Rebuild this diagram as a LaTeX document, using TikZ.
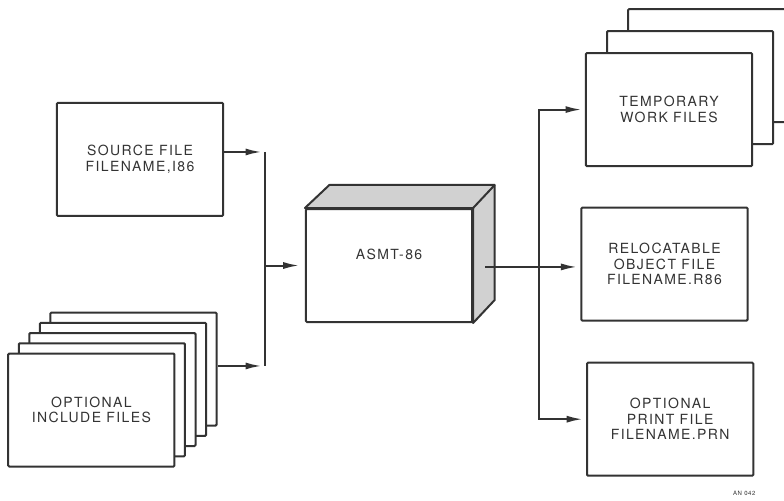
\documentclass[tikz,border=0pt]{standalone}
\usepackage{fontspec}
\setmainfont{TeX Gyre Heros}[LetterSpace=10]
\usetikzlibrary{arrows.meta,calc,positioning}

\begin{document}
\begin{tikzpicture}[node distance=22mm, color=black!80, line width=2pt, >={Latex[length=16pt,width=7pt]}, block/.style={rectangle, draw, fill=white, rounded corners=1pt, minimum width=58.4mm, minimum height=39.7mm, align=center, font=\fontsize{14}{15.5}\selectfont}]

    \useasboundingbox (-136.7mm,93.3mm) rectangle (138.8mm,-82.4mm);

    \node[block] (asmt) {ASMT-86\\[1mm]\strut};
    \node[block, right of=asmt, node distance=96.8mm, yshift=0.5mm] (obj) {RELOCATABLE\\OBJECT FILE\\FILENAME.R86};
    \node[block, below of=obj, node distance=54.5mm, xshift=2mm] (prn) {OPTIONAL\\PRINT FILE\\FILENAME.PRN};
    \node[block, left of=asmt, node distance=87.5mm, yshift=37.3mm] (src) {SOURCE FILE\\FILENAME,I86};
    \node[font=\fontsize{6}{7}\selectfont] (tag) at ($(prn.south east)+(-3.5mm,-6mm)$) {AN 042};

    % stacked files, back to front
    \coordinate[above of=obj, node distance=54.3mm, xshift=1.6mm] (tmppos);
    \foreach \k in {2,1}
      \node[block] (tmp\k) at ($(tmppos)+(\k*7.4mm,\k*7.7mm)$) {};
    \node[block] (tmp) at (tmppos) {TEMPORARY\\WORK FILES};

    \coordinate[below of=src, node distance=88.1mm, xshift=-17.1mm] (inclpos);
    \foreach \k in {4,3,2,1}
      \node[block] (incl\k) at ($(inclpos)+(\k*3.7mm,\k*3.6mm)$) {};
    \node[block] (incl) at (inclpos) {OPTIONAL\\INCLUDE FILES};

    % box depth
    \draw[fill=black!18, line join=round] (asmt.north west) -- ++(8.6mm,8.1mm) -- ($(asmt.north east)+(7.6mm,8.1mm)$) -- ($(asmt.south east)+(7.6mm,8.1mm)$) -- (asmt.south east) -- (asmt.north east) -- cycle;
    \draw (asmt.north east) -- ++(7.6mm,8.1mm);

    \coordinate[left of=asmt, node distance=43.6mm] (lbus);
    \coordinate[right of=asmt, node distance=52.7mm, yshift=-0.5mm] (rbus);
    \coordinate (srcout) at ([yshift=2.6mm]src.east);
    \coordinate (inclout) at ([yshift=1.1mm]incl4.east);
    \coordinate (asmtout) at ([shift={(4.2mm,-0.5mm)}]asmt.east);

    \draw[->, shorten >=1.2mm] (srcout) -- (srcout -| lbus);
    \draw[->, shorten >=1.2mm] (inclout) -- (inclout -| lbus);
    \draw (lbus |- srcout) -- (lbus |- inclout);
    \draw[->, shorten >=2mm] (lbus) -- (asmt.west);

    \draw[->, shorten >=1.2mm] (asmtout) -- (asmtout -| obj.west);
    \draw[->, shorten >=1.2mm] (rbus) |- (tmp.west);
    \draw[->, shorten >=1.2mm] (rbus) |- (prn.west);

\end{tikzpicture}
\end{document}
